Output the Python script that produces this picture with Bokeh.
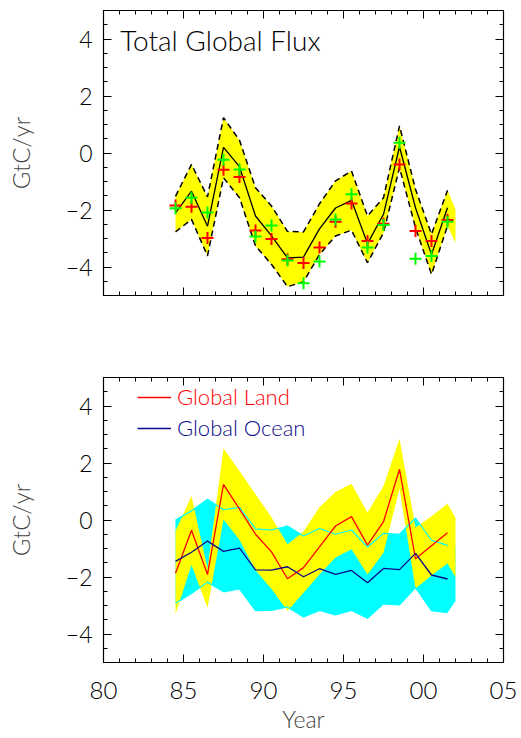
from bokeh.plotting import figure
from bokeh.layouts import column
from bokeh.models import FixedTicker, Label, Legend, LegendItem, LinearAxis
from bokeh.embed import file_html
from bokeh.resources import INLINE

# ---------------- data ----------------
years = [84.5, 85.5, 86.5, 87.5, 88.5, 89.5, 90.5, 91.5, 92.5,
         93.5, 94.5, 95.5, 96.5, 97.5, 98.5, 99.5, 100.5, 101.5]
band_years = years + [102.0]

total_mean = [-2.10, -1.34, -2.57, 0.20, -0.48, -2.21, -2.91, -3.68, -3.65,
              -2.66, -1.93, -1.66, -3.18, -2.15, 0.22, -1.92, -3.56, -1.92]
total_upper = [-1.52, -0.40, -1.54, 1.24, 0.45, -1.22, -1.86, -2.75, -2.77,
               -1.78, -0.98, -0.63, -2.21, -1.57, 0.95, -1.27, -2.85, -1.31, -1.98]
total_lower = [-2.77, -2.33, -3.61, -0.87, -1.57, -3.26, -3.91, -4.69, -4.52,
               -3.56, -2.91, -2.71, -3.85, -2.80, -0.51, -2.62, -4.26, -2.56, -3.15]
total_red = [-1.84, -1.89, -2.98, -0.59, -0.84, -2.72, -3.02, -3.73, -3.86,
             -3.32, -2.41, -1.77, -3.09, -2.48, -0.40, -2.74, -3.09, -2.35]
total_green = [-1.94, -1.57, -2.09, -0.24, -0.58, -2.93, -2.54, -3.77, -4.57,
               -3.81, -2.33, -1.45, -3.32, -2.53, 0.36, -3.71, -3.61, -2.41]

land = [-1.87, -0.36, -1.91, 1.25, 0.38, -0.50, -1.12, -2.06, -1.67,
        -0.94, -0.21, 0.12, -0.88, -0.06, 1.78, -1.36, -0.90, -0.45]
land_upper = [-0.39, 0.84, -1.70, 2.51, 1.72, 0.90, 0.10, -0.85, -0.40,
              0.45, 0.98, 1.27, 0.26, 1.19, 2.85, -0.26, 0.13, 0.57, 0.08]
land_lower = [-3.31, -1.58, -3.08, 0.02, -0.70, -1.76, -2.42, -3.19, -2.55,
              -1.91, -1.32, -1.03, -1.91, -1.15, 1.10, -2.40, -1.95, -1.53, -2.01]

ocean = [-1.45, -1.13, -0.74, -1.10, -0.99, -1.75, -1.76, -1.64, -1.99,
         -1.71, -1.91, -1.77, -2.20, -1.70, -1.74, -1.17, -1.93, -2.07]
ocean_upper = [0.00, 0.32, 0.73, 0.36, 0.44, -0.31, -0.35, -0.21, -0.56,
               -0.30, -0.50, -0.35, -0.95, -0.47, -0.50, 0.07, -0.71, -0.89, -0.90]
ocean_lower = [-2.92, -2.58, -2.18, -2.52, -2.42, -3.18, -3.17, -3.05, -3.40,
               -3.17, -3.33, -3.17, -3.45, -2.94, -2.98, -2.37, -3.18, -3.25, -2.84]

x_ticks = [80, 85, 90, 95, 100, 105]
x_tick_labels = ["80", "85", "90", "95", "00", "05"]
y_ticks = [-4, -2, 0, 2, 4]
y_tick_labels = ["\u22124", "\u22122", "0", "2", "4"]

FONT = "Lato Light"


def base_figure(top_border, bottom_border, show_x_labels):
    p = figure(x_range=(80, 105), y_range=(-5, 5), frame_width=400, frame_height=285,
               min_border_left=103, min_border_right=18, min_border_top=top_border,
               min_border_bottom=bottom_border, toolbar_location=None, output_backend="svg",
               background_fill_color="white", border_fill_color="white")
    p.grid.visible = False
    p.outline_line_color = "black"
    p.outline_line_width = 1.2
    p.add_layout(LinearAxis(), "right")
    p.add_layout(LinearAxis(), "above")
    x_minor = list(range(80, 106))
    y_minor = [v * 0.5 for v in range(-10, 11)]
    for ax in p.xaxis:
        ax.ticker = FixedTicker(ticks=x_ticks, minor_ticks=x_minor)
        ax.major_label_overrides = {t: "" for t in x_ticks}
    for ax in p.yaxis:
        ax.ticker = FixedTicker(ticks=y_ticks, minor_ticks=y_minor)
        ax.major_label_overrides = {t: "" for t in y_ticks}
    for ax in p.axis:
        ax.major_tick_in = 8
        ax.major_tick_out = 0
        ax.minor_tick_in = 4
        ax.minor_tick_out = 0
        ax.axis_line_color = "black"
        ax.major_tick_line_color = "black"
        ax.minor_tick_line_color = "black"
        ax.major_label_text_font = FONT
        ax.major_label_text_color = "black"
        ax.major_label_text_font_size = "10px"
        ax.major_label_standoff = 0
    for ax in p.left:
        ax.major_label_text_font_size = "23px"
        ax.major_label_standoff = 11
        ax.major_label_overrides = dict(zip(y_ticks, y_tick_labels))
        ax.axis_label = "GtC/yr"
        ax.axis_label_text_font = FONT
        ax.axis_label_text_font_style = "normal"
        ax.axis_label_text_font_size = "24px"
        ax.axis_label_standoff = 28
    for ax in p.below:
        if show_x_labels:
            ax.major_label_text_font_size = "24px"
            ax.major_label_standoff = 19
            ax.major_label_overrides = dict(zip(x_ticks, x_tick_labels))
            ax.axis_label = "Year"
            ax.axis_label_text_font = FONT
            ax.axis_label_text_font_style = "normal"
            ax.axis_label_text_font_size = "23px"
            ax.axis_label_standoff = 3
    return p


# ---------------- top panel ----------------
p1 = base_figure(10, 35, False)
p1.varea(x=band_years, y1=total_lower, y2=total_upper, fill_color="#ffff00")
p1.line(years, total_upper[:-1], line_color="black", line_width=1.5, line_dash="6 4")
p1.line(years, total_lower[:-1], line_color="black", line_width=1.5, line_dash="6 4")
p1.line(years, total_mean, line_color="black", line_width=1.3)
p1.scatter(years, total_red, marker="cross", size=12, line_color="#ff0000", line_width=2)
p1.scatter(years, total_green, marker="cross", size=12, line_color="#00ff00", line_width=2)
p1.add_layout(Label(x=81.05, y=3.98, text="Total Global Flux", text_font=FONT,
                    text_font_size="28px", text_color="black", text_baseline="alphabetic"))

# ---------------- bottom panel ----------------
p2 = base_figure(47, 76, True)
p2.varea(x=band_years, y1=ocean_lower, y2=ocean_upper, fill_color="#00ffff")
p2.varea(x=band_years, y1=land_lower, y2=land_upper, fill_color="#ffff00")
p2.line(years, ocean_upper[:-1], line_color="#00ffff", line_width=1.2)
p2.line(years, ocean_lower[:-1], line_color="#00ffff", line_width=1.2)
r_land = p2.line(years, land, line_color="#ff0000", line_width=1.3)
r_ocean = p2.line(years, ocean, line_color="#0a0a8c", line_width=1.3)

for label, rend, color, ypos in [("Global Land", r_land, "#ff0000", 252),
                                 ("Global Ocean", r_ocean, "#0a0a8c", 221)]:
    lg = Legend(items=[LegendItem(label=label, renderers=[rend])], location=(34, ypos),
                border_line_color=None, background_fill_alpha=0, padding=0, margin=0,
                spacing=0, glyph_width=34, glyph_height=20, label_height=20,
                label_standoff=6, label_text_color=color, label_text_font=FONT,
                label_text_font_size="22px")
    p2.add_layout(lg)

layout = column(p1, p2, spacing=0)
open("out.html", "w").write(file_html(layout, INLINE))
